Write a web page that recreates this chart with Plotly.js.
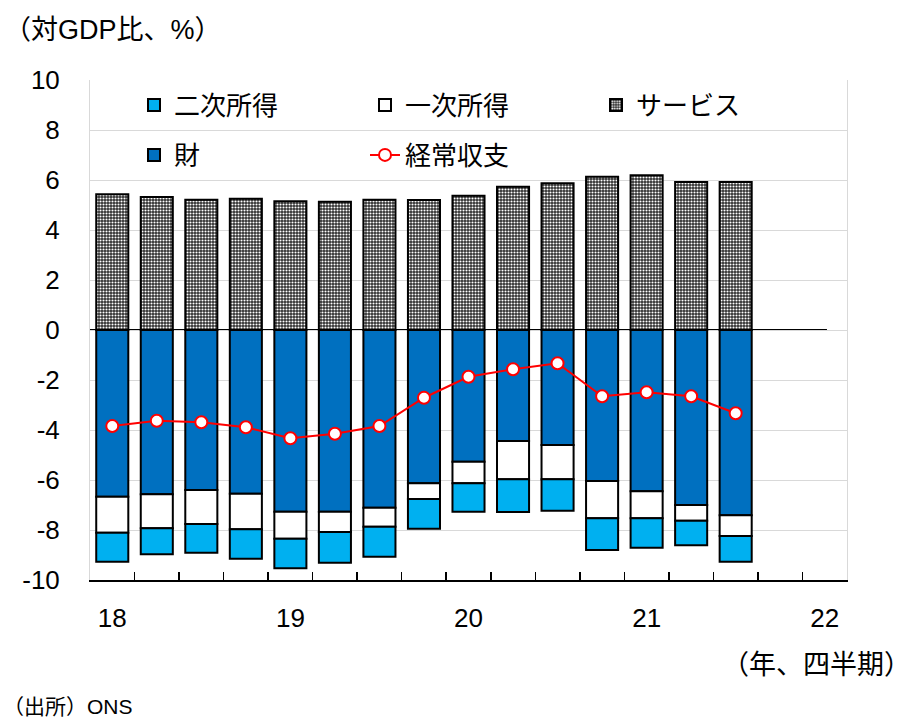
<!DOCTYPE html>
<html>
<head>
<meta charset="utf-8">
<script src="https://cdn.plot.ly/plotly-3.0.1.min.js"></script>
<style>
  html, body { margin: 0; padding: 0; background: #ffffff; }
  #chart { width: 915px; height: 718px; }
</style>
</head>
<body>
<div id="chart"></div>
<script>
// Quarterly categories (axis runs to 2022Q1; data ends 2021Q3)
const quarters = ['18Q1','18Q2','18Q3','18Q4','19Q1','19Q2','19Q3','19Q4',
                  '20Q1','20Q2','20Q3','20Q4','21Q1','21Q2','21Q3','21Q4','22Q1'];
const tickLabels = ['18','','','','19','','','','20','','','','21','','','','22'];
const dataQuarters = ['18Q1','18Q2','18Q3','18Q4','19Q1','19Q2','19Q3','19Q4',
                      '20Q1','20Q2','20Q3','20Q4','21Q1','21Q2','21Q3'];

// Value axis ticks (plain hyphen for negatives)
const yTickVals = [-10, -8, -6, -4, -2, 0, 2, 4, 6, 8, 10];
const yTickText = ['-10', '-8', '-6', '-4', '-2', '0', '2', '4', '6', '8', '10'];

// Balance components, % of GDP
const services        = [5.43, 5.32, 5.21, 5.25, 5.15, 5.13, 5.21, 5.20, 5.37, 5.73, 5.87, 6.13, 6.19, 5.92, 5.92];
const goods           = [-6.67, -6.57, -6.40, -6.55, -7.27, -7.27, -7.11, -6.13, -5.27, -4.44, -4.60, -6.04, -6.45, -7.00, -7.41];
const primaryIncome   = [-1.44, -1.36, -1.36, -1.42, -1.08, -0.81, -0.76, -0.63, -0.86, -1.53, -1.37, -1.49, -1.08, -0.63, -0.83];
const secondaryIncome = [-1.16, -1.04, -1.15, -1.18, -1.18, -1.23, -1.20, -1.19, -1.14, -1.31, -1.26, -1.27, -1.18, -0.98, -1.03];
const currentAccount  = [-3.84, -3.63, -3.69, -3.89, -4.33, -4.15, -3.84, -2.71, -1.87, -1.57, -1.33, -2.65, -2.49, -2.65, -3.33];

// Page geometry helpers (plot area in pixels)
const W = 915, H = 718;
const M = { l: 90, r: 68, t: 80, b: 138 };
const PW = W - M.l - M.r, PH = H - M.t - M.b;
const px = x => (x - M.l) / PW;
const py = y => (H - M.b - y) / PH;

const FONT = 'Liberation Sans, Arial, "Noto Sans CJK JP", sans-serif';
const barLine = { color: '#000000', width: 2 };

const traces = [
  { type: 'bar', name: '財', x: dataQuarters, y: goods,
    marker: { color: '#0070c0', line: barLine },
    legend: 'legend2', legendrank: 1 },
  { type: 'bar', name: '一次所得', x: dataQuarters, y: primaryIncome,
    marker: { color: '#ffffff', line: barLine },
    legend: 'legend', legendrank: 2 },
  { type: 'bar', name: '二次所得', x: dataQuarters, y: secondaryIncome,
    marker: { color: '#00b0f0', line: barLine },
    legend: 'legend', legendrank: 1 },
  { type: 'bar', name: 'サービス', x: dataQuarters, y: services,
    marker: { color: '#2e2e2e', line: barLine,
      pattern: { shape: '.', fgcolor: '#ffffff', bgcolor: '#2e2e2e', size: 3, solidity: 0.4, fillmode: 'replace' } },
    legend: 'legend', legendrank: 3 },
  { type: 'scatter', mode: 'lines+markers', name: '経常収支', x: dataQuarters, y: currentAccount,
    line: { color: '#ff0000', width: 2 },
    marker: { symbol: 'circle', size: 12, color: '#ffffff', line: { color: '#ff0000', width: 2 } },
    legend: 'legend2', legendrank: 2 }
];

const legendBase = {
  orientation: 'h', xanchor: 'left', yanchor: 'middle',
  entrywidthmode: 'pixels', entrywidth: 186,
  font: { family: FONT, size: 26, color: '#000000' },
  bgcolor: 'rgba(0,0,0,0)', borderwidth: 0, traceorder: 'normal'
};

const layout = {
  width: W, height: H,
  margin: M,
  paper_bgcolor: '#ffffff', plot_bgcolor: '#ffffff',
  font: { family: FONT, size: 26, color: '#000000' },
  barmode: 'relative', bargap: 0.28,
  showlegend: true,
  legend: Object.assign({}, legendBase, { x: px(134), y: py(105) }),
  legend2: Object.assign({}, legendBase, { x: px(134), y: py(155) }),
  xaxis: {
    type: 'category', categoryorder: 'array', categoryarray: quarters,
    range: [-0.5, quarters.length - 0.5],
    tickmode: 'array', tickvals: quarters, ticktext: tickLabels,
    tickson: 'boundaries', ticks: 'inside', ticklen: 8, tickwidth: 1.5, tickcolor: '#000000',
    showline: true, linecolor: '#000000', linewidth: 2, mirror: false,
    showgrid: false, zeroline: false, ticklabelstandoff: 14,
    tickfont: { family: FONT, size: 26, color: '#000000' },
    fixedrange: true
  },
  yaxis: {
    range: [-10, 10], tickmode: 'array', tickvals: yTickVals, ticktext: yTickText,
    showgrid: true, gridcolor: '#d9d9d9', gridwidth: 1,
    showline: true, linecolor: '#d9d9d9', linewidth: 1, mirror: true,
    zeroline: false, ticks: '', ticklabelstandoff: 24,
    tickfont: { family: FONT, size: 26, color: '#000000' },
    fixedrange: true
  },
  shapes: [
    { type: 'line', xref: 'x', yref: 'y', x0: -0.5, x1: 16.05, y0: 0, y1: 0,
      line: { color: '#000000', width: 2 }, layer: 'below' }
  ],
  annotations: [
    { text: '（対GDP比、%）', xref: 'paper', yref: 'paper', x: px(2), y: py(30),
      xanchor: 'left', yanchor: 'middle', showarrow: false,
      font: { family: FONT, size: 27, color: '#000000' } },
    { text: '（年、四半期）', xref: 'paper', yref: 'paper', x: px(913), y: py(665),
      xanchor: 'right', yanchor: 'middle', showarrow: false,
      font: { family: FONT, size: 27, color: '#000000' } },
    { text: '（出所）ONS', xref: 'paper', yref: 'paper', x: px(1), y: py(706),
      xanchor: 'left', yanchor: 'middle', showarrow: false,
      font: { family: FONT, size: 21, color: '#000000' } }
  ]
};

Plotly.newPlot('chart', traces, layout, { displayModeBar: false, staticPlot: true });
</script>
</body>
</html>
